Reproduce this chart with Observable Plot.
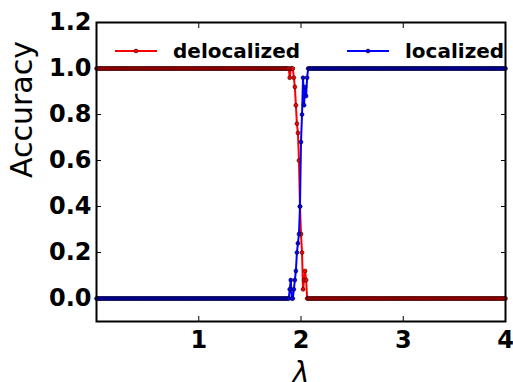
<!DOCTYPE html>
<html>
<head>
<meta charset="utf-8">
<script src="https://cdn.jsdelivr.net/npm/d3@7"></script>
<script src="https://cdn.jsdelivr.net/npm/@observablehq/plot@0.6"></script>
<style>
  body { margin: 0; background: white; }
  #wrap { position: relative; width: 513px; height: 382px; font-family: "DejaVu Sans", sans-serif; overflow: hidden; }
  #legend { position: absolute; left: 0; top: 0; pointer-events: none; }
</style>
</head>
<body>
<div id="wrap"></div>
<script>
// ---- data ----
const lambdaGridCount = 401;           // samples 0.00 .. 4.00
const lambdaGridStep = 0.01;
const seriesNames = ["delocalized", "localized"];
const seriesColors = ["red", "blue"];
// plateau levels before / after the transition
const delocalizedBefore = 1, delocalizedAfter = 0;
const localizedBefore = 0, localizedAfter = 1;
// transition region
const transitionLambda      = [1.88,1.89,1.90,1.91,1.92,1.93,1.94,1.95,1.96,1.97,1.98,1.99,2.00,2.01,2.02,2.03,2.04,2.05,2.06,2.07];
const delocalizedTransition = [1,   0.96,1,   1,   1,   0.96,0.92,0.84,0.76,0.72,0.6, 0.4, 0.28,0.2, 0.04,0.08,0.12,0.08,0,   0];
const localizedTransition   = [0,   0.04,0.08,0,   0,   0.04,0.08,0.12,0.2, 0.24,0.28,0.4, 0.68,0.8, 0.96,0.84,0.92,0.88,0.96,1];
const xTicks = [1, 2, 3, 4];
const yTicks = [0, 0.2, 0.4, 0.6, 0.8, 1.0, 1.2];
const xTitle = "λ";
const yTitle = "Accuracy";

// ---- build table ----
function series(name, before, after, trans) {
  const lo = transitionLambda[0], hi = transitionLambda[transitionLambda.length - 1];
  return d3.range(lambdaGridCount).map(i => {
    const lam = Math.round(i * lambdaGridStep * 100) / 100;
    let v;
    if (lam < lo) v = before;
    else if (lam > hi) v = after;
    else v = trans[transitionLambda.findIndex(t => Math.abs(t - lam) < 1e-9)];
    return {series: name, lambda: lam, acc: v};
  });
}
const deloc = series("delocalized", delocalizedBefore, delocalizedAfter, delocalizedTransition);
const loc = series("localized", localizedBefore, localizedAfter, localizedTransition);

const tickFont = {fontSize: 24, fontWeight: "bold"};

const chart = Plot.plot({
  width: 513,
  height: 382,
  marginLeft: 96,
  marginRight: 8,
  marginTop: 22,
  marginBottom: 61,
  style: {fontFamily: "DejaVu Sans", background: "white", overflow: "visible"},
  x: {domain: [0, 4]},
  y: {domain: [-0.1, 1.2]},
  marks: [
    // tick labels
    Plot.axisX({ticks: xTicks, tickSize: 0, tickPadding: 9, tickFormat: d3.format("d"), label: null, ...tickFont}),
    Plot.axisY({ticks: yTicks, tickSize: 0, tickPadding: 5, tickFormat: d3.format(".1f"), label: null, ...tickFont}),
    // inward ticks on all sides
    Plot.axisX({ticks: xTicks, tickSize: -5, tickFormat: () => "", label: null}),
    Plot.axisX({anchor: "top", ticks: xTicks, tickSize: -5, tickFormat: () => "", label: null}),
    Plot.axisY({ticks: yTicks, tickSize: -5, tickFormat: () => "", label: null}),
    Plot.axisY({anchor: "right", ticks: yTicks, tickSize: -5, tickFormat: () => "", label: null}),
    // axis titles
    Plot.text([yTitle], {text: d => d, frameAnchor: "left", rotate: -90, dx: -74, dy: 6, fontSize: 30, fontWeight: "normal", fill: "black"}),
    Plot.text([xTitle], {text: d => d, frameAnchor: "bottom", dy: 60, fontSize: 28, fontWeight: "normal", fontStyle: "italic", fill: "black"}),
    // series
    Plot.line(deloc, {x: "lambda", y: "acc", stroke: seriesColors[0], strokeWidth: 2}),
    Plot.dot(deloc, {x: "lambda", y: "acc", r: 2, fill: seriesColors[0], stroke: "black", strokeWidth: 0.5}),
    Plot.line(loc, {x: "lambda", y: "acc", stroke: seriesColors[1], strokeWidth: 2}),
    Plot.dot(loc, {x: "lambda", y: "acc", r: 2, fill: seriesColors[1], stroke: "black", strokeWidth: 0.5}),
    Plot.frame({stroke: "black", strokeWidth: 2})
  ]
});

const wrap = document.getElementById("wrap");
wrap.appendChild(chart);

// ---- legend overlay ----
const legendLayout = [
  {lineX: 115, textX: 173},
  {lineX: 347, textX: 405}
];
const ns = "http://www.w3.org/2000/svg";
const lg = document.createElementNS(ns, "svg");
lg.setAttribute("id", "legend");
lg.setAttribute("width", 513);
lg.setAttribute("height", 382);
seriesNames.forEach((name, i) => {
  const {lineX, textX} = legendLayout[i];
  const y = 51;
  const line = document.createElementNS(ns, "line");
  line.setAttribute("x1", lineX); line.setAttribute("x2", lineX + 42);
  line.setAttribute("y1", y); line.setAttribute("y2", y);
  line.setAttribute("stroke", seriesColors[i]); line.setAttribute("stroke-width", 2);
  lg.appendChild(line);
  const c = document.createElementNS(ns, "circle");
  c.setAttribute("cx", lineX + 21); c.setAttribute("cy", y); c.setAttribute("r", 2);
  c.setAttribute("fill", seriesColors[i]); c.setAttribute("stroke", "black"); c.setAttribute("stroke-width", 0.5);
  lg.appendChild(c);
  const t = document.createElementNS(ns, "text");
  t.setAttribute("x", textX); t.setAttribute("y", y + 6.5);
  t.setAttribute("font-family", "DejaVu Sans"); t.setAttribute("font-weight", "bold");
  t.setAttribute("font-size", 20);
  t.textContent = name;
  lg.appendChild(t);
});
wrap.appendChild(lg);
</script>
</body>
</html>
